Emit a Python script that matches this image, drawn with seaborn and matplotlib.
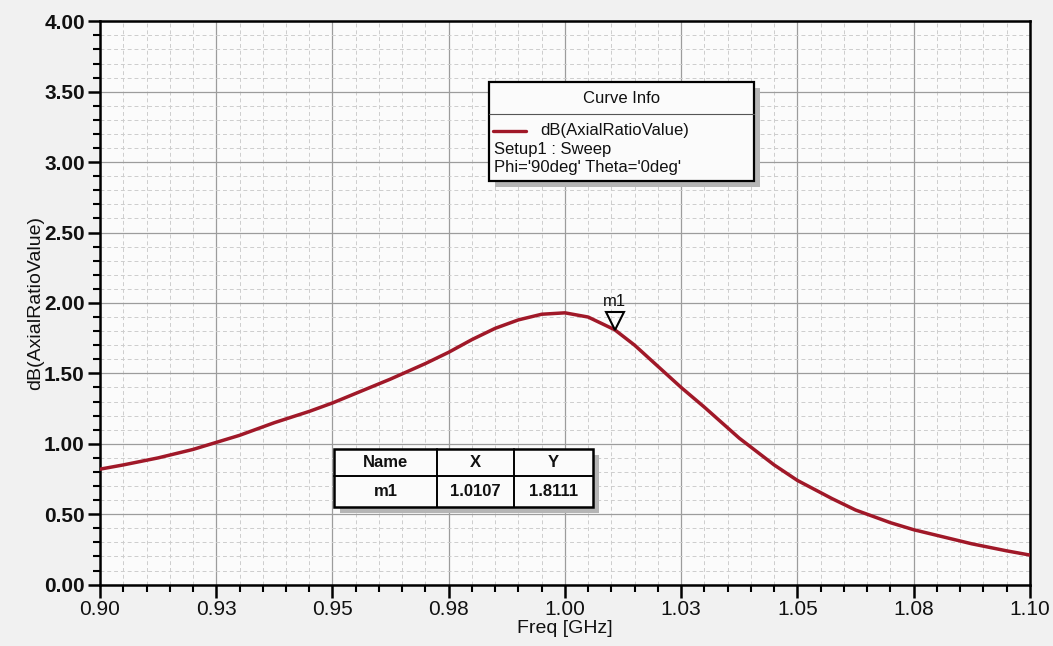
import numpy as np
import pandas as pd
import matplotlib
matplotlib.use("Agg")
import matplotlib.pyplot as plt
import matplotlib.transforms as mtransforms
from matplotlib.patches import Rectangle
from matplotlib.lines import Line2D
from matplotlib.ticker import MultipleLocator, FixedLocator, FixedFormatter
import seaborn as sns

# ---------------- data ----------------
freq_ghz = [0.900, 0.905, 0.9125, 0.920, 0.925, 0.930, 0.9375, 0.945, 0.950,
            0.9625, 0.970, 0.975, 0.980, 0.985, 0.990, 0.995, 1.000, 1.005,
            1.0107, 1.015, 1.020, 1.025, 1.030, 1.0375, 1.045, 1.050, 1.0575,
            1.0625, 1.070, 1.075, 1.0825, 1.0875, 1.095, 1.100]
axial_ratio_db = [0.82, 0.85, 0.90, 0.96, 1.01, 1.06, 1.15, 1.23, 1.29,
                  1.46, 1.57, 1.65, 1.74, 1.82, 1.88, 1.92, 1.93, 1.90,
                  1.81, 1.70, 1.55, 1.40, 1.26, 1.04, 0.85, 0.74, 0.61,
                  0.53, 0.44, 0.39, 0.33, 0.29, 0.24, 0.21]

x_ticks = [0.900, 0.925, 0.950, 0.975, 1.000, 1.025, 1.050, 1.075, 1.100]
x_tick_labels = ["0.90", "0.93", "0.95", "0.98", "1.00", "1.03", "1.05", "1.08", "1.10"]
y_ticks = [0.0, 0.5, 1.0, 1.5, 2.0, 2.5, 3.0, 3.5, 4.0]
y_tick_labels = ["0.00", "0.50", "1.00", "1.50", "2.00", "2.50", "3.00", "3.50", "4.00"]

marker_name = "m1"
marker_x = 1.0107
marker_y = 1.8111

curve_name = "dB(AxialRatioValue)"
legend_lines = ["Setup1 : Sweep", "Phi='90deg' Theta='0deg'"]

# ---------------- style ----------------
sns.set_style("white")
plt.rcParams['font.family'] = ['Liberation Sans', 'DejaVu Sans']

curve_color = '#a01828'

fig = plt.figure(figsize=(10.53, 6.46), dpi=100, facecolor='#f1f1f1')
ax = fig.add_axes([0.095, 0.095, 0.883, 0.872])
ax.set_facecolor('#fbfbfb')

df = pd.DataFrame({'Freq': freq_ghz, 'AR': axial_ratio_db})
sns.lineplot(data=df, x='Freq', y='AR', color=curve_color, linewidth=2.5, ax=ax, zorder=3)

ax.set_xlim(0.9, 1.1)
ax.set_ylim(0, 4)
ax.xaxis.set_major_locator(FixedLocator(x_ticks))
ax.xaxis.set_major_formatter(FixedFormatter(x_tick_labels))
ax.yaxis.set_major_locator(FixedLocator(y_ticks))
ax.yaxis.set_major_formatter(FixedFormatter(y_tick_labels))
ax.xaxis.set_minor_locator(MultipleLocator(0.005))
ax.yaxis.set_minor_locator(MultipleLocator(0.1))

ax.set_axisbelow(True)
ax.grid(which='major', color='#9c9c9c', linewidth=0.9)
ax.grid(which='minor', color='#cdcdcd', linewidth=0.7, linestyle=(0, (4, 3)))

ax.tick_params(axis='both', which='major', direction='out', length=9, width=1.8,
               labelsize=15, color='black', labelcolor='#111111')
ax.tick_params(axis='both', which='minor', direction='out', length=5, width=1.5, color='black')
ax.tick_params(axis='x', which='both', bottom=True, top=False, pad=2)
ax.tick_params(axis='y', which='both', left=True, right=False, pad=2)
for lbl in ax.get_yticklabels():
    lbl.set_fontweight('bold')

for s in ax.spines.values():
    s.set_color('black')
    s.set_linewidth(1.8)

ax.set_xlabel('Freq [GHz]', fontsize=14, labelpad=1, color='#111111')
ax.set_ylabel(curve_name, fontsize=14, labelpad=0, color='#111111')

# ---------------- marker ----------------
tri_trans = mtransforms.offset_copy(ax.transData, fig=fig, x=0, y=6, units='points')
ax.plot([marker_x], [marker_y], marker='v', markersize=13, fillstyle='none',
        markeredgecolor='black', markeredgewidth=1.5, linestyle='none',
        transform=tri_trans, zorder=5)
ax.annotate(marker_name, xy=(marker_x, marker_y), xytext=(0, 15), textcoords='offset points',
            ha='center', va='bottom', fontsize=12, color='#111111', zorder=5)

# ---------------- Curve Info box ----------------
T = ax.transAxes
shadow = mtransforms.offset_copy(T, fig=fig, x=6, y=-6, units='dots')
lx0, lx1, ly0, ly1 = 0.418, 0.703, 0.716, 0.893
ax.add_patch(Rectangle((lx0, ly0), lx1 - lx0, ly1 - ly0, transform=shadow,
                       facecolor='#b5b5b5', edgecolor='none', zorder=6))
ax.add_patch(Rectangle((lx0, ly0), lx1 - lx0, ly1 - ly0, transform=T,
                       facecolor='#fbfbfb', edgecolor='black', linewidth=1.6, zorder=7))
ax.text((lx0 + lx1) / 2, 0.863, 'Curve Info', transform=T, ha='center', va='center',
        fontsize=12, color='#111111', zorder=8)
ax.add_line(Line2D([lx0, lx1], [0.836, 0.836], transform=T, color='#555555', lw=0.8, zorder=8))
ax.add_line(Line2D([0.423, 0.458], [0.806, 0.806], transform=T, color=curve_color, lw=2.4, zorder=8))
ax.text(0.473, 0.806, curve_name, transform=T, ha='left', va='center',
        fontsize=12, color='#111111', zorder=8)
ax.text(0.424, 0.772, legend_lines[0], transform=T, ha='left', va='center',
        fontsize=12, color='#111111', zorder=8)
ax.text(0.424, 0.740, legend_lines[1], transform=T, ha='left', va='center',
        fontsize=12, color='#111111', zorder=8)

# ---------------- marker table ----------------
tx0, tx1, ty0, ty1 = 0.252, 0.530, 0.138, 0.241
c1, c2 = 0.362, 0.445
ymid = 0.193
ax.add_patch(Rectangle((tx0, ty0), tx1 - tx0, ty1 - ty0, transform=shadow,
                       facecolor='#b5b5b5', edgecolor='none', zorder=6))
ax.add_patch(Rectangle((tx0, ty0), tx1 - tx0, ty1 - ty0, transform=T,
                       facecolor='#fbfbfb', edgecolor='black', linewidth=1.8, zorder=7))
for cx in (c1, c2):
    ax.add_line(Line2D([cx, cx], [ty0, ty1], transform=T, color='black', lw=1.4, zorder=8))
ax.add_line(Line2D([tx0, tx1], [ymid, ymid], transform=T, color='black', lw=1.4, zorder=8))
headers = ['Name', 'X', 'Y']
values = [marker_name, f"{marker_x:.4f}", f"{marker_y:.4f}"]
centers = [(tx0 + c1) / 2, (c1 + c2) / 2, (c2 + tx1) / 2]
for cx, h, v in zip(centers, headers, values):
    ax.text(cx, (ymid + ty1) / 2, h, transform=T, ha='center', va='center',
            fontsize=12, fontweight='bold', color='#111111', zorder=8)
    ax.text(cx, (ty0 + ymid) / 2, v, transform=T, ha='center', va='center',
            fontsize=12, fontweight='bold', color='#111111', zorder=8)

fig.savefig('out.png', dpi=100, facecolor=fig.get_facecolor())
